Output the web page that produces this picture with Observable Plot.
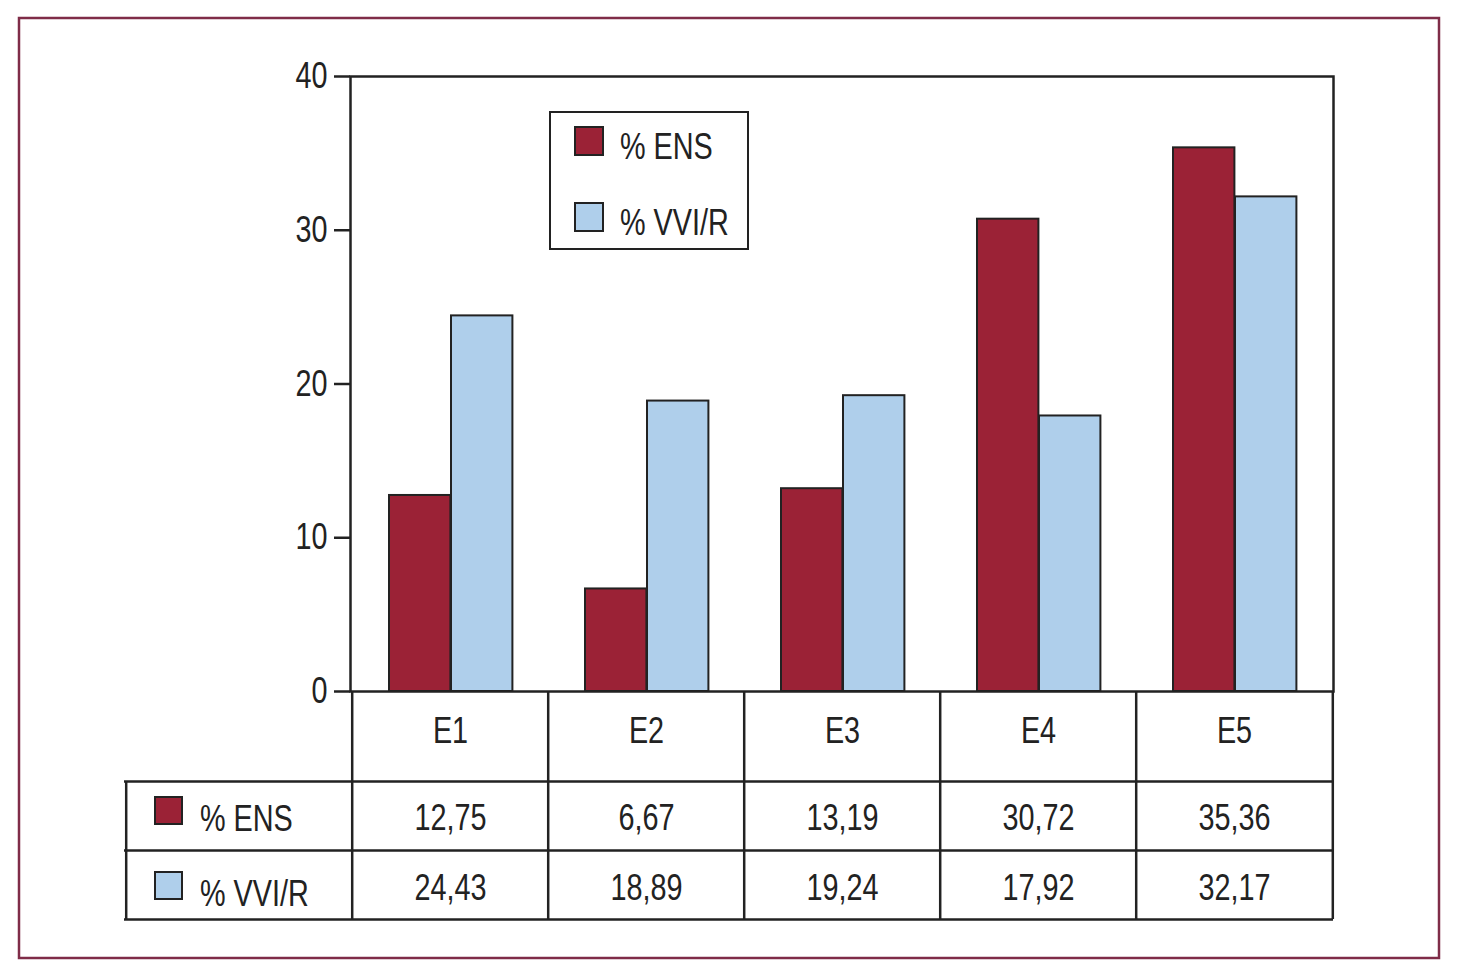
<!DOCTYPE html>
<html>
<head>
<meta charset="utf-8">
<script src="https://cdn.jsdelivr.net/npm/d3@7"></script>
<script src="https://cdn.jsdelivr.net/npm/@observablehq/plot@0.6"></script>
<style>
  html, body { margin: 0; padding: 0; background: #fff; }
  #chart svg { display: block; }
</style>
</head>
<body>
<div id="chart"></div>
<script>
// ---- data ----
const categories = ["E1", "E2", "E3", "E4", "E5"];
const seriesNames = ["% ENS", "% VVI/R"];
const ensValues = [12.75, 6.67, 13.19, 30.72, 35.36];
const vviValues = [24.43, 18.89, 19.24, 17.92, 32.17];
const yTicks = [0, 10, 20, 30, 40];

const RED = "#9b2236";
const BLUE = "#afcfeb";
const INK = "#222";
const FONT = '"Liberation Sans", Arial, sans-serif';
const NARROW = 0.8; // horizontal compression to mimic a condensed face

const rows = categories.map((c, i) => ({cat: c, ens: ensValues[i], vvi: vviValues[i]}));
const fmt = v => d3.format(".2f")(v).replace(".", ",");

const W = 1462, H = 970;
const mL = 350, mR = 129, mT = 76, mB = 279;
const bw = (W - mL - mR) / categories.length;
const frameH = H - mT - mB;
const tableLeft = 226; // extent of label column left of the frame

// legend + row labels + outer border (custom render mark)
function extras(index, scales, values, dimensions) {
  const g = d3.create("svg:g").attr("font-family", FONT).attr("text-anchor", "start");
  // outer border
  g.append("rect").attr("x", 19).attr("y", 18).attr("width", 1420).attr("height", 940)
    .attr("fill", "none").attr("stroke", "#7f2c48").attr("stroke-width", 2.5);
  // legend in plot
  const lx = dimensions.marginLeft + 200, ly = dimensions.marginTop + 36;
  g.append("rect").attr("x", lx).attr("y", ly).attr("width", 198).attr("height", 137)
    .attr("fill", "#fff").attr("stroke", INK).attr("stroke-width", 2);
  const colors = [RED, BLUE];
  seriesNames.forEach((s, i) => {
    const cy = ly + 29 + i * 76;
    g.append("rect").attr("x", lx + 25).attr("y", cy - 14).attr("width", 28).attr("height", 28)
      .attr("fill", colors[i]).attr("stroke", INK).attr("stroke-width", 2);
    g.append("text").attr("x", lx + 70).attr("y", cy + 5).attr("dy", "0.35em")
      .attr("text-anchor", "start").attr("font-size", 36).attr("fill", INK).text(s);
  });
  // table row labels
  const by = H - dimensions.marginBottom;
  seriesNames.forEach((s, i) => {
    const cy = by + 120 + i * 75;
    g.append("rect").attr("x", 155).attr("y", cy - 14).attr("width", 27).attr("height", 27)
      .attr("fill", colors[i]).attr("stroke", INK).attr("stroke-width", 2);
    g.append("text").attr("x", 200).attr("y", cy + 7).attr("dy", "0.35em")
      .attr("text-anchor", "start").attr("font-size", 36).attr("fill", INK).text(s);
  });
  return g.node();
}

const textOpts = {frameAnchor: "bottom", lineAnchor: "middle", fontSize: 36, fill: INK};

const plot = Plot.plot({
  width: W,
  height: H,
  marginLeft: mL,
  marginRight: mR,
  marginTop: mT,
  marginBottom: mB,
  style: {fontFamily: FONT, fontSize: "36px", color: INK, background: "#fff"},
  x: {type: "band", domain: categories, padding: 0, axis: null},
  y: {domain: [0, 40], axis: null},
  marks: [
    Plot.barY(rows, {x: "cat", y: "ens", fill: RED, stroke: INK, strokeWidth: 2,
      insetLeft: 37, insetRight: bw - 99}),
    Plot.barY(rows, {x: "cat", y: "vvi", fill: BLUE, stroke: INK, strokeWidth: 2,
      insetLeft: 99, insetRight: bw - 161}),
    Plot.frame({stroke: INK, strokeWidth: 2.5}),
    Plot.axisY({ticks: yTicks, tickSize: 16, tickPadding: 7, fontSize: 36,
      stroke: INK, strokeWidth: 2.5, fill: INK, label: null}),
    // table horizontal lines
    Plot.ruleY([0], {dy: 90, insetLeft: -tableLeft, stroke: INK, strokeWidth: 2.5}),
    Plot.ruleY([0], {dy: 159, insetLeft: -tableLeft, stroke: INK, strokeWidth: 2.5}),
    Plot.ruleY([0], {dy: 228, insetLeft: -tableLeft, stroke: INK, strokeWidth: 2.5}),
    // table vertical lines at band boundaries
    Plot.ruleX(categories, {x: d => d, dx: -bw / 2, insetTop: frameH, insetBottom: -228,
      stroke: INK, strokeWidth: 2.5}),
    Plot.ruleX([categories[categories.length - 1]], {x: d => d, dx: bw / 2, insetTop: frameH,
      insetBottom: -228, stroke: INK, strokeWidth: 2.5}),
    Plot.ruleX([categories[0]], {x: d => d, dx: -bw / 2 - tableLeft, insetTop: frameH + 90,
      insetBottom: -228, stroke: INK, strokeWidth: 2.5}),
    // table texts
    Plot.text(categories, {x: d => d, text: d => d, dy: 40, ...textOpts}),
    Plot.text(rows, {x: "cat", text: d => fmt(d.ens), dy: 127, ...textOpts}),
    Plot.text(rows, {x: "cat", text: d => fmt(d.vvi), dy: 197, ...textOpts}),
    extras
  ]
});
document.getElementById("chart").appendChild(plot);

// condense all text horizontally (the original uses a condensed sans)
d3.select(plot).selectAll("text").each(function () {
  const len = this.getComputedTextLength();
  if (len > 0) {
    this.setAttribute("textLength", (len * NARROW).toFixed(1));
    this.setAttribute("lengthAdjust", "spacingAndGlyphs");
  }
});
</script>
</body>
</html>
